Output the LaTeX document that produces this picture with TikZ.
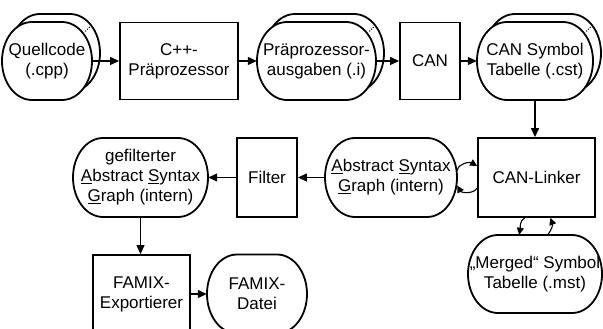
\documentclass[tikz,border=0pt]{standalone}
\usepackage{fontspec}
\setmainfont{Liberation Sans}
\usetikzlibrary{arrows.meta,calc}

\tikzset{
  proz/.style={draw, line width=1.8pt, fill=white, rectangle, inner sep=0pt, align=center},
  datei/.style={draw, line width=1.8pt, fill=white},
  inhalt/.style={rectangle, inner sep=0pt, align=center},
  pfeil/.style={line width=1.2pt, -{Triangle[length=9pt,width=8pt]}},
  schleife/.style={line width=1.1pt, -{Triangle[length=7pt,width=7pt]}},
}

\begin{document}
\begin{tikzpicture}[x=1pt, y=1pt, font=\fontsize{17}{20}\selectfont]

\newcommand\Versatz{8};
\newcommand\Rx{30};
%% Oval: Name, x, y, Breite, Hoehe, Text
\newcommand\Oval[6]{%
  \draw[datei] (#2,#3) ++(-#4/2+\Rx,#5/2)
    arc[start angle=90, end angle=270, x radius=\Rx, y radius=#5/2]
    -- ++(#4-2*\Rx,0)
    arc[start angle=-90, end angle=90, x radius=\Rx, y radius=#5/2] -- cycle;
  \node[inhalt, minimum width=#4pt, minimum height=#5pt] (#1) at (#2,#3) {#6};}
\newcommand\Punkte[1]{%
  \fill ($(#1.north east)+(-8.8,-11.4)+(2.2,2.2)$) circle (0.7pt);
  \fill ($(#1.north east)+(-8.8,-11.4)+(4,4)$) circle (0.7pt);
  \fill ($(#1.north east)+(-8.8,-11.4)+(5.8,5.8)$) circle (0.7pt);}

\useasboundingbox (0,0) rectangle (603,-329); %% Rand

%% obere Reihe, Stapel hinten
\Oval{quell-h}{47+\Versatz}{-61+\Versatz}{90}{78}{}
\Oval{prep-h}{316.5+\Versatz}{-61+\Versatz}{119}{78}{}
\Oval{cst-h}{535+\Versatz}{-61+\Versatz}{116}{78}{}

%% obere Reihe
\Oval{quell}{47}{-61}{90}{78}{Quellcode\\(.cpp)}
\node[proz, minimum width=118pt, minimum height=77pt] (cpp) at (179,-61) {C++-\\Präprozessor};
\Oval{prep}{316.5}{-61}{119}{78}{Präprozessor-\\ausgaben (.i)}
\node[proz, minimum width=60pt, minimum height=77pt] (can) at (430,-61) {CAN};
\Oval{cst}{535}{-61}{116}{78}{CAN Symbol\\Tabelle (.cst)}

\Punkte{quell}
\Punkte{prep}
\Punkte{cst}

%% mittlere Reihe
\node[proz, minimum width=117pt, minimum height=79pt] (linker) at (536.5,-177.5) {CAN-Linker};
\Oval{asg}{391}{-177.5}{132}{79}{\underline{A}bstract \underline{S}yntax\\\underline{G}raph (intern)}
\node[proz, minimum width=60pt, minimum height=79pt] (filter) at (267,-177.5) {Filter};
\Oval{gasg}{140.5}{-177.5}{135}{79}{gefilterter\\\underline{A}bstract \underline{S}yntax\\\underline{G}raph (intern)}

%% untere Reihe
\node[proz, minimum width=97pt, minimum height=78pt] (famexp) at (141.5,-294) {FAMIX-\\Exportierer};
\Oval{famdat}{257}{-294}{100}{79}{FAMIX-\\Datei}
\Oval{merged}{535}{-274}{134}{78}{„Merged“ Symbol\\Tabelle (.mst)}

%% Pfeile
\draw[pfeil] (quell.east) -- (cpp.west);
\draw[pfeil] (cpp.east) -- (prep.west);
\draw[pfeil] (prep.east) -- (can.west);
\draw[pfeil] (can.east) -- (cst.west);
\draw[pfeil] (cst.south) -- (cst.south |- linker.north);
\draw[pfeil] (asg.west) -- (filter.east);
\draw[pfeil] (filter.west) -- (gasg.east);
\draw[pfeil] (gasg.south) -- (gasg.south |- famexp.north);
\draw[pfeil] (famexp.east) -- (famdat.west);

%% Schleifen am Linker
\draw[schleife] (asg.6) to[out=80, in=150] (linker.169);
\draw[schleife] (linker.190) to[out=-120, in=-60] (asg.-7);
\draw[schleife] (linker.-106) to[out=-150, in=80] (merged.112);
\draw[schleife] (merged.72) to[out=50, in=-70] (linker.-71);

\end{tikzpicture}
\end{document}
